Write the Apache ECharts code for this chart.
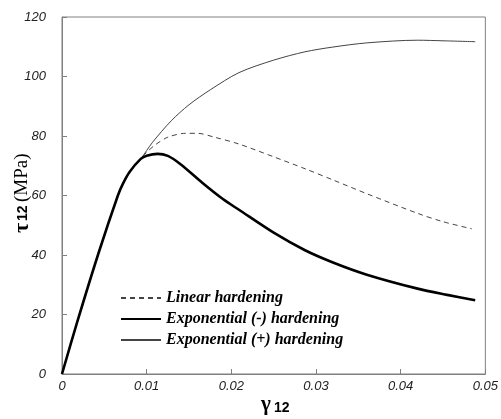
<!DOCTYPE html>
<html>
<head>
<meta charset="utf-8">
<script src="https://cdn.jsdelivr.net/npm/echarts@6/dist/echarts.min.js"></script>
<style>html,body{margin:0;padding:0;background:#fff;}#c{width:501px;height:419px;}</style>
</head>
<body>
<div id="c"></div>
<script>
var seriesNames = ['Linear hardening', 'Exponential (-) hardening', 'Exponential (+) hardening'];
var xTicks = [0, 0.01, 0.02, 0.03, 0.04, 0.05];
var yTicks = [0, 20, 40, 60, 80, 100, 120];

var elastic = [[0,0],[0.0018,17.5],[0.0043,40.5],[0.0066,60],[0.0072,64],[0.008,68],[0.0093,72.3]];

var linearHard = [[0.0093,72.3],[0.010,74.5],[0.011,77],[0.0125,79.6],[0.0146,80.9],[0.016,80.9],[0.018,79.6],[0.0209,77.3],[0.025,73],[0.0287,69],[0.0322,65],[0.036,60.6],[0.042,54],[0.045,51.2],[0.0484,48.8]];

var expMinus = [[0.0093,72.3],[0.010,73.4],[0.0113,74.0],[0.0125,73.3],[0.014,70.5],[0.0166,64.2],[0.019,58.8],[0.0209,55.2],[0.025,47.5],[0.0287,41.6],[0.032,37.5],[0.036,33.4],[0.042,28.7],[0.0455,26.6],[0.0488,24.8]];

var expPlus = [[0.0093,72.3],[0.0107,77.9],[0.0129,85.1],[0.015,90.5],[0.0175,95.5],[0.0209,101.3],[0.025,105.5],[0.0287,108.3],[0.032,109.9],[0.036,111.3],[0.042,112.2],[0.045,112],[0.0488,111.7]];

var chart = echarts.init(document.getElementById('c'), null, {renderer:'canvas'});
var tickFont = {fontFamily:'Liberation Sans, Arial, sans-serif', fontStyle:'italic', fontSize:13, color:'#222'};
var option = {
  animation:false,
  backgroundColor:'#fff',
  grid:{left:62, top:17, right:13, bottom:45, show:true, borderColor:'#808080', borderWidth:1, containLabel:false},
  xAxis:{type:'value', min:xTicks[0], max:xTicks[xTicks.length-1], interval:0.01,
    axisLine:{show:true, onZero:false, lineStyle:{color:'#808080', width:1}},
    axisTick:{show:true, inside:true, length:5, lineStyle:{color:'#808080'}},
    splitLine:{show:false},
    axisLabel:Object.assign({margin:6, formatter:function(v){return String(+v.toFixed(2));}}, tickFont)},
  yAxis:{type:'value', min:yTicks[0], max:yTicks[yTicks.length-1], interval:20,
    axisLine:{show:true, onZero:false, lineStyle:{color:'#808080', width:1}},
    axisTick:{show:true, inside:true, length:5, lineStyle:{color:'#808080'}},
    splitLine:{show:false},
    axisLabel:Object.assign({margin:16}, tickFont)},
  legend:{orient:'vertical', left:115, top:285, itemWidth:40, itemHeight:14, itemGap:5,
    data:seriesNames,
    itemStyle:{opacity:0},
    textStyle:{fontFamily:'Liberation Serif, Times New Roman, serif', fontStyle:'italic', fontWeight:'bold', fontSize:16, color:'#000'}},
  series:[
    {name:seriesNames[0], type:'line', showSymbol:false, symbol:'none', smooth:0.3,
     data:elastic.concat(linearHard), lineStyle:{color:'#444', width:1, type:[5,4]}, itemStyle:{color:'#444'}, z:2},
    {name:seriesNames[1], type:'line', showSymbol:false, symbol:'none', smooth:0.3,
     data:elastic.concat(expMinus), lineStyle:{color:'#000', width:2.6}, itemStyle:{color:'#000'}, z:4},
    {name:seriesNames[2], type:'line', showSymbol:false, symbol:'none', smooth:0.3,
     data:elastic.concat(expPlus), lineStyle:{color:'#444', width:1}, itemStyle:{color:'#444'}, z:3}
  ],
  graphic:[
    {type:'text', x:266, y:405, style:{text:'γ', font:'bold 21px "Liberation Serif", serif', fill:'#000', textAlign:'center', textVerticalAlign:'middle'}},
    {type:'text', x:274, y:408, style:{text:'12', font:'bold 14px "Liberation Sans", Arial, sans-serif', fill:'#000', textAlign:'left', textVerticalAlign:'middle'}},
    {type:'group', x:22, y:190, rotation:Math.PI/2, children:[
      {type:'text', x:-43, y:0, style:{text:'τ', font:'bold 22px "Liberation Serif", serif', fill:'#000', textAlign:'left', textVerticalAlign:'middle'}},
      {type:'text', x:-31, y:1, style:{text:'12', font:'bold 14px "Liberation Sans", Arial, sans-serif', fill:'#000', textAlign:'left', textVerticalAlign:'middle'}},
      {type:'text', x:-12, y:0, style:{text:'(MPa)', font:'19px "Liberation Serif", serif', fill:'#000', textAlign:'left', textVerticalAlign:'middle'}}
    ]}
  ]
};
chart.setOption(option);
</script>
</body>
</html>
